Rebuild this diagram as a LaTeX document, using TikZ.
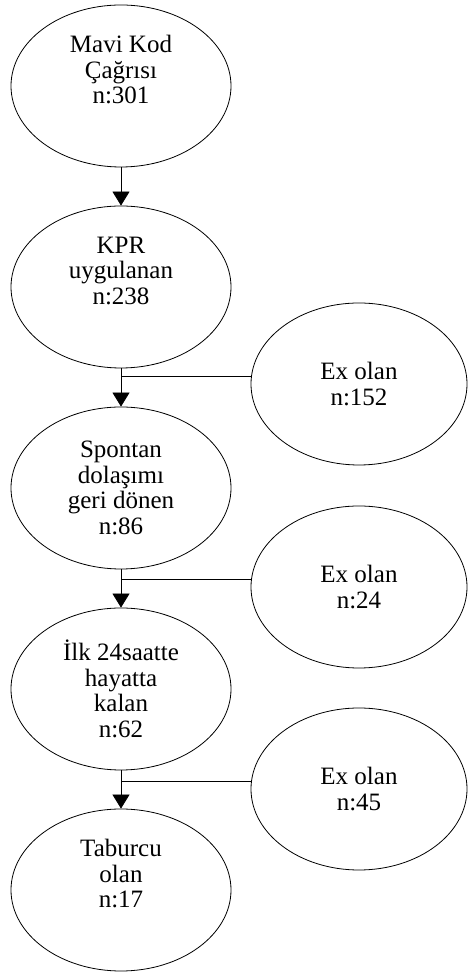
\documentclass[tikz,border=0pt]{standalone}
\usepackage{fontspec}
\setmainfont{Liberation Serif}
\usetikzlibrary{arrows.meta, shapes.geometric}

\tikzset{
    stage/.style={draw, ellipse, line width=0.8pt, minimum width=220pt, minimum height=162pt,
        inner sep=0pt, align=center, font=\fontsize{25}{25.5}\selectfont},
    exbox/.style={stage, minimum width=216pt},
    flow/.style={line width=0.8pt, -{Triangle[width=17pt,length=14pt]}},
    side/.style={line width=0.8pt}
}

\begin{document}
\begin{tikzpicture}[x=1pt, y=1pt]
    \useasboundingbox (0,0) rectangle (468,972);

    % Main column
    \node[stage] (call) at (121,886) {Mavi Kod\\Çağrısı\\n:301\\ \strut};
    \node[stage] (cpr) at (121,685) {KPR\\uygulanan\\n:238\\ \strut};
    \node[stage] (rosc) at (121,484) {Spontan\\dolaşımı\\geri dönen\\n:86};
    \node[stage] (alive) at (121,283) {İlk 24saatte\\hayatta\\kalan\\n:62};
    \node[stage] (home) at (121,82) {Taburcu\\olan\\n:17\\ \strut};

    % Deaths
    \node[exbox] (ex1) at (359,588) {Ex olan\\n:152};
    \node[exbox] (ex2) at (359,385) {Ex olan\\n:24};
    \node[exbox] (ex3) at (359,183) {Ex olan\\n:45};

    % Arrows
    \draw[flow] (call.south) -- (cpr.north);
    \draw[flow] (cpr.south) -- (rosc.north);
    \draw[flow] (rosc.south) -- (alive.north);
    \draw[flow] (alive.south) -- (home.north);

    % Side lines
    \draw[side] (ex1.176) -- (ex1.176 -| cpr.south);
    \draw[side] (ex2.176) -- (ex2.176 -| rosc.south);
    \draw[side] (ex3.176) -- (ex3.176 -| alive.south);
\end{tikzpicture}
\end{document}
